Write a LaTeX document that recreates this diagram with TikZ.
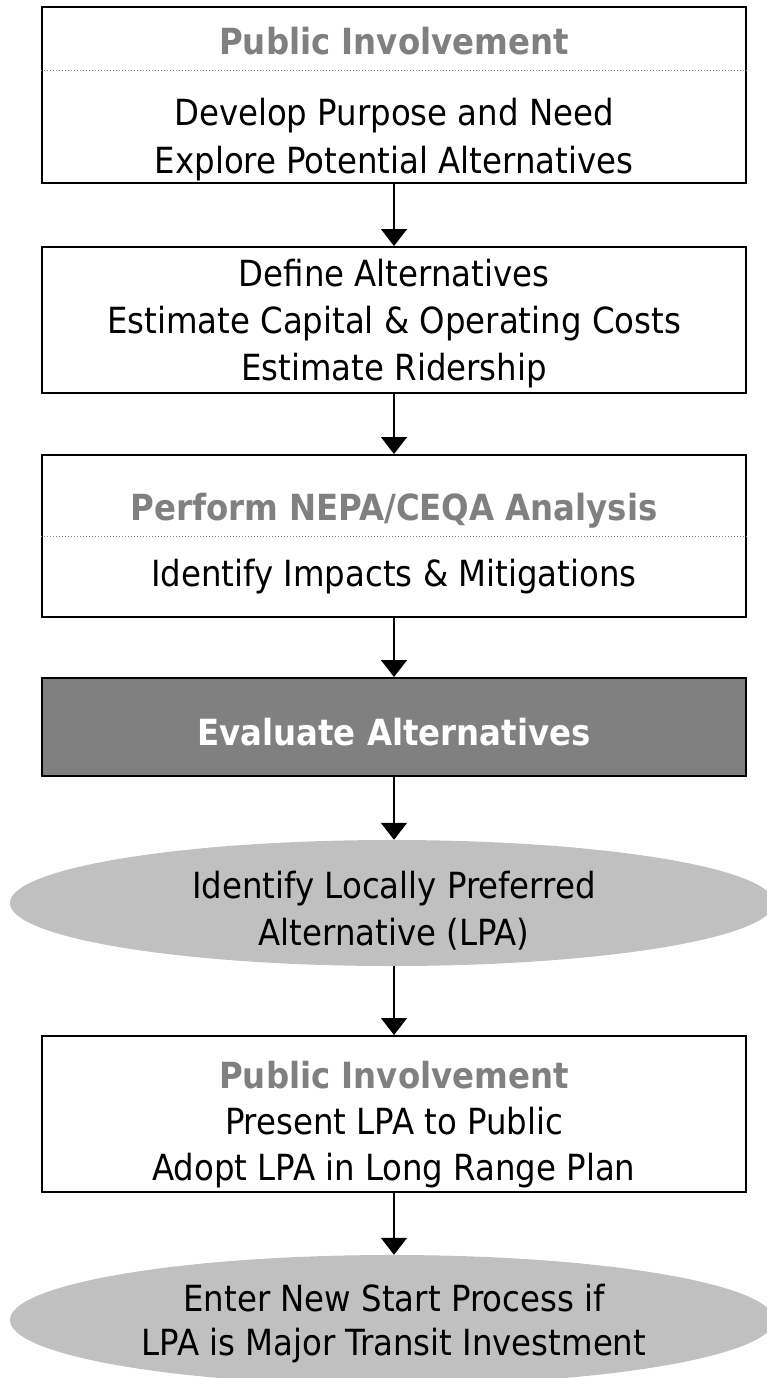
\documentclass[tikz,border=0pt]{standalone}
\usepackage{fontspec}
\setmainfont{DejaVu Sans Condensed}
\usetikzlibrary{arrows.meta,shapes.geometric}

\definecolor{headgray}{HTML}{808080}
\definecolor{darkfill}{HTML}{808080}
\definecolor{lightfill}{HTML}{C0C0C0}

\tikzset{
  stepbox/.style={draw=black, line width=2pt, fill=white, rectangle,
    minimum width=704pt, inner sep=0pt},
  darkbox/.style={stepbox, fill=darkfill},
  oval/.style={ellipse, fill=lightfill, draw=none, inner sep=0pt,
    minimum width=764pt},
  txt/.style={anchor=base, inner sep=0pt, font=\fontsize{36}{47}\selectfont},
  head/.style={txt, font=\fontsize{36}{47}\selectfont\bfseries, text=headgray},
  white head/.style={txt, font=\fontsize{36}{47}\selectfont\bfseries, text=white},
  sep/.style={draw=headgray, line width=1pt, dotted},
  flow/.style={draw=black, line width=1.5pt,
    -{Triangle[width=26pt,length=17pt]}}
}

\begin{document}
\begin{tikzpicture}[x=1pt,y=-1pt]
\useasboundingbox (0,0) rectangle (766,1378);

% step 1
\node[stepbox, minimum height=176pt] (b1) at (394,95) {};
\node[head] (h1) at (394,55) {Public Involvement};
\draw[sep] (b1.west |- 0,71) -- (b1.east |- 0,71);
\node[txt] (t1a) at (394,126) {Develop Purpose and Need};
\node[txt] (t1b) at (394,173) {Explore Potential Alternatives};

% step 2
\node[stepbox, minimum height=146pt] (b2) at (394,320) {};
\node[txt] (t2a) at (394,286) {Define Alternatives};
\node[txt] (t2b) at (394,333) {Estimate Capital \& Operating Costs};
\node[txt] (t2c) at (394,380) {Estimate Ridership};

% step 3
\node[stepbox, minimum height=162pt] (b3) at (394,536) {};
\node[head] (h3) at (394,520) {Perform NEPA/CEQA Analysis};
\draw[sep] (b3.west |- 0,536) -- (b3.east |- 0,536);
\node[txt] (t3a) at (394,586) {Identify Impacts \& Mitigations};

% step 4
\node[darkbox, minimum height=98pt] (b4) at (394,727) {};
\node[white head] (h4) at (394,745) {Evaluate Alternatives};

% step 5
\node[oval, minimum height=126pt] (e1) at (392,903) {};
\node[txt] (t5a) at (394,898) {Identify Locally Preferred};
\node[txt] (t5b) at (394,945) {Alternative (LPA)};

% step 6
\node[stepbox, minimum height=156pt] (b5) at (394,1114) {};
\node[head] (h5) at (394,1088) {Public Involvement};
\node[txt] (t6a) at (394,1134) {Present LPA to Public};
\node[txt] (t6b) at (394,1180) {Adopt LPA in Long Range Plan};

% step 7
\node[oval, minimum height=130pt] (e2) at (392,1320) {};
\node[txt] (t7a) at (394,1311) {Enter New Start Process if};
\node[txt] (t7b) at (394,1355) {LPA is Major Transit Investment};

% connectors
\draw[flow] (b1.south) -- (b2.north);
\draw[flow] (b2.south) -- (b3.north);
\draw[flow] (b3.south) -- (b4.north);
\draw[flow] (b4.south) -- (e1.north -| b4.south);
\draw[flow] (e1.south -| b5.north) -- (b5.north);
\draw[flow] (b5.south) -- (e2.north -| b5.south);
\end{tikzpicture}
\end{document}
